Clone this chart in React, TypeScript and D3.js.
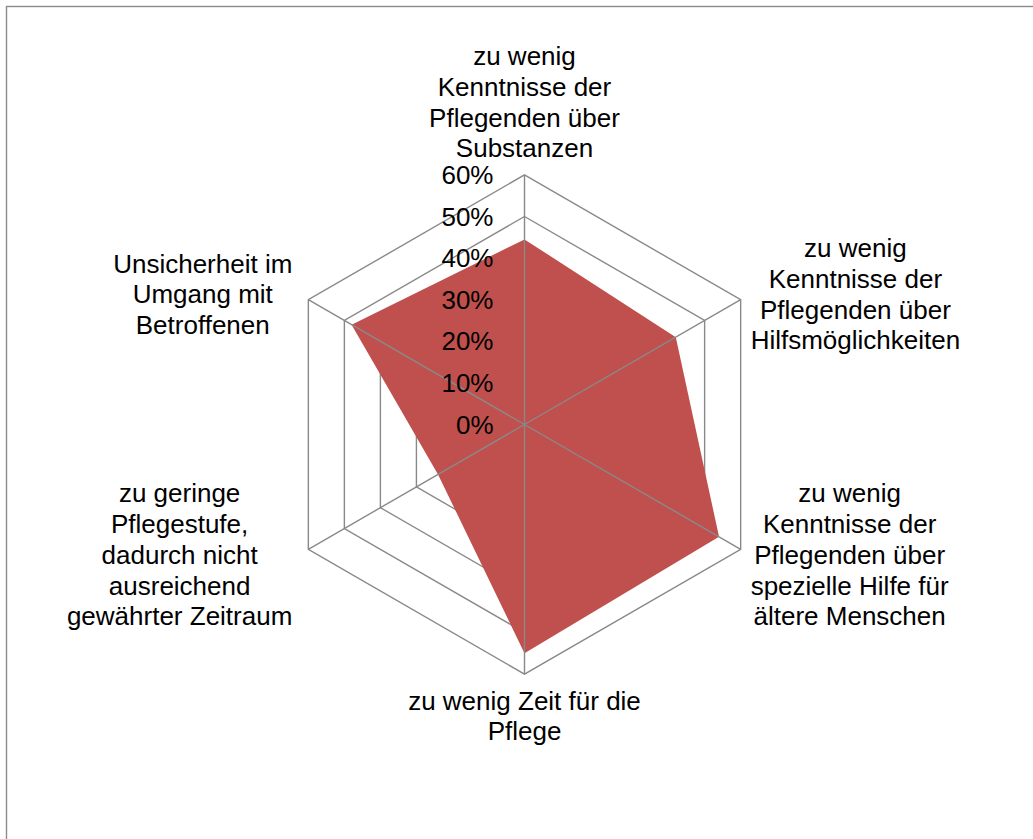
import React, { useEffect, useRef } from "react";
import * as d3 from "d3";

const categories: string[][] = [
  ["zu wenig", "Kenntnisse der", "Pflegenden über", "Substanzen"],
  ["zu wenig", "Kenntnisse der", "Pflegenden über", "Hilfsmöglichkeiten"],
  ["zu wenig", "Kenntnisse der", "Pflegenden über", "spezielle Hilfe für", "ältere Menschen"],
  ["zu wenig Zeit für die", "Pflege"],
  ["zu geringe", "Pflegestufe,", "dadurch nicht", "ausreichend", "gewährter Zeitraum"],
  ["Unsicherheit im", "Umgang mit", "Betroffenen"],
];
const values: number[] = [0.445, 0.42, 0.54, 0.55, 0.24, 0.48];
const tickValues: number[] = [0, 0.1, 0.2, 0.3, 0.4, 0.5, 0.6];

const W = 1033;
const H = 839;
const CX = 524.5;
const CY = 424.5;
const R = 249.6;
const FS = 26;
const LH = 30.7;
const GRID = "#898989";
const FILL = "#C0504D";
const FONT = "'Liberation Sans', Arial, sans-serif";

export default function App() {
  const ref = useRef<SVGSVGElement | null>(null);

  useEffect(() => {
    const svg = d3.select(ref.current);
    svg.selectAll("*").remove();
    const n = categories.length;
    const r = d3.scaleLinear().domain([0, 0.6]).range([0, R]);
    const ang = (i: number) => (i * 2 * Math.PI) / n;
    const pt = (i: number, v: number): [number, number] => [
      CX + r(v) * Math.sin(ang(i)),
      CY - r(v) * Math.cos(ang(i)),
    ];

    // border
    svg.append("rect")
      .attr("x", 6.5).attr("y", 6.5)
      .attr("width", W + 20).attr("height", H + 20)
      .attr("fill", "white").attr("stroke", "#8c8c8c").attr("stroke-width", 1.4);

    const line = d3.line<number>()
      .x((d, i) => pt(i, d)[0])
      .y((d, i) => pt(i, d)[1])
      .curve(d3.curveLinearClosed);

    // grid rings (behind the filled area)
    tickValues.slice(1).forEach((t) => {
      const ring = d3.range(n).map(() => t);
      svg.append("path")
        .attr("d", line(ring) as string)
        .attr("fill", "none").attr("stroke", GRID).attr("stroke-width", 1.4);
    });

    // filled area
    svg.append("path").attr("d", line(values) as string).attr("fill", FILL);

    // spokes (on top)
    d3.range(n).forEach((i) => {
      const [x, y] = pt(i, 0.6);
      svg.append("line")
        .attr("x1", CX).attr("y1", CY).attr("x2", x).attr("y2", y)
        .attr("stroke", GRID).attr("stroke-width", 1.4);
    });

    // tick labels
    svg.append("g").selectAll("text").data(tickValues).join("text")
      .attr("x", CX - 31)
      .attr("y", (d) => CY - r(d) + 9)
      .attr("text-anchor", "end")
      .attr("font-family", FONT).attr("font-size", FS).attr("fill", "#000")
      .text((d) => d3.format(".0%")(d));

    // category labels
    categories.forEach((lines, i) => {
      const [vx, vy] = pt(i, 0.6);
      const s = Math.sin(ang(i));
      const c = Math.cos(ang(i));
      const g = svg.append("g");
      const texts = g.selectAll("text").data(lines).join("text")
        .attr("text-anchor", "middle")
        .attr("font-family", FONT).attr("font-size", FS).attr("fill", "#000")
        .text((d) => d);
      let w = 0;
      texts.each(function () {
        w = Math.max(w, (this as SVGTextElement).getComputedTextLength());
      });
      const m = lines.length;
      const half = ((m - 1) / 2) * LH + 13;
      let xc = vx;
      let yc = vy;
      if (Math.abs(s) < 0.01) {
        yc = c > 0 ? vy - 13.5 - half : vy + 13.5 + half;
      } else {
        const gap = s > 0 ? 10 : 16;
        xc = vx + (s > 0 ? 1 : -1) * (gap + w / 2);
        yc = vy + (c > 0 ? -5.5 : 5.5);
      }
      texts
        .attr("x", xc)
        .attr("y", (d, k) => yc + (k - (m - 1) / 2) * LH + 9);
    });
  }, []);

  return (
    <svg
      ref={ref}
      width={W}
      height={H}
      style={{ position: "fixed", left: 0, top: 0, display: "block", background: "white" }}
    />
  );
}
